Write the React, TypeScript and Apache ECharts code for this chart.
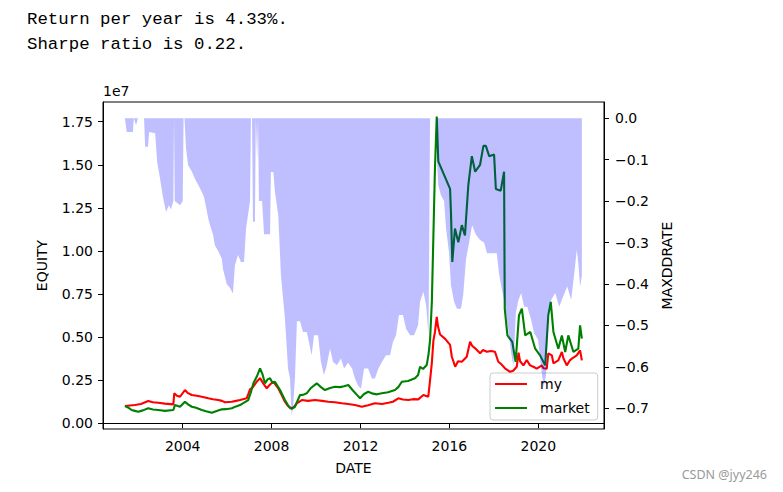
import React, { useEffect, useRef } from "react";
import * as echarts from "echarts";

// ---------- text ----------
const infoLines = ["Return per year is 4.33%.", "Sharpe ratio is 0.22."];

// ---------- axes ----------
const xTicks = [2004, 2008, 2012, 2016, 2020];
const equityTicks = [0, 2500000, 5000000, 7500000, 10000000, 12500000, 15000000, 17500000];
const ddTicks = [0, -0.1, -0.2, -0.3, -0.4, -0.5, -0.6, -0.7];

// ---------- series: "my" (equity in millions) ----------
const myDates = [
  2001.4, 2001.85, 2002.12, 2002.45, 2002.66, 2002.9, 2003.2, 2003.58, 2003.62, 2003.74,
  2003.88, 2004.1, 2004.24, 2004.41, 2004.7, 2004.91, 2005.15, 2005.36, 2005.6, 2005.77,
  2005.9, 2006.21, 2006.4, 2006.58, 2006.88, 2007.03, 2007.16, 2007.33, 2007.48, 2007.63,
  2007.78, 2007.93, 2008.08, 2008.3, 2008.47, 2008.6, 2008.74, 2008.91, 2009.01, 2009.13,
  2009.36, 2009.64, 2009.95, 2010.27, 2010.55, 2010.85, 2011.16, 2011.44, 2011.75, 2012.06,
  2012.34, 2012.65, 2012.97, 2013.25, 2013.46, 2013.7, 2013.91, 2014.15, 2014.36, 2014.6,
  2014.83, 2015.05, 2015.13, 2015.21, 2015.28, 2015.35, 2015.43, 2015.49, 2015.58, 2015.81,
  2016.03, 2016.11, 2016.26, 2016.39, 2016.56, 2016.78, 2016.93, 2017.02, 2017.16, 2017.38,
  2017.51, 2017.68, 2017.87, 2018.05, 2018.2, 2018.32, 2018.5, 2018.73, 2018.87, 2019.03,
  2019.11, 2019.18, 2019.33, 2019.48, 2019.63, 2019.78, 2019.93, 2020.16, 2020.23, 2020.38,
  2020.45, 2020.61, 2020.68, 2020.9, 2021.06, 2021.13, 2021.28, 2021.43, 2021.51, 2021.73,
  2021.88, 2021.96,
];
const myEquity = [
  1.0, 1.06, 1.12, 1.29, 1.22, 1.19, 1.14, 1.1, 1.74, 1.6,
  1.54, 1.93, 1.75, 1.64, 1.58, 1.52, 1.45, 1.4, 1.35, 1.3,
  1.22, 1.25, 1.3, 1.35, 1.45, 1.97, 2.1, 2.41, 2.62, 2.3,
  2.03, 2.25, 2.41, 2.03, 1.6, 1.25, 1.0, 0.87, 0.95, 1.16,
  1.35, 1.3, 1.35, 1.3, 1.25, 1.22, 1.16, 1.12, 1.06, 0.96,
  1.05, 1.16, 1.12, 1.19, 1.25, 1.45, 1.38, 1.35, 1.4, 1.39,
  1.64, 1.54, 2.5, 3.5, 4.8, 5.3, 6.18, 5.6, 5.15, 4.9,
  4.55, 3.86, 3.28, 3.6, 3.57, 3.86, 4.73, 4.5, 4.35, 4.06,
  4.25, 4.15, 4.2, 4.15, 3.57, 3.45, 3.19, 2.99, 3.05, 3.28,
  4.1, 3.6, 3.36, 3.67, 3.36, 3.28, 3.17, 3.36, 3.19, 3.17,
  4.06, 3.94, 3.48, 3.65, 4.14, 3.77, 3.36, 3.67, 3.75, 3.94,
  4.23, 3.65,
];

// ---------- series: "market" (equity in millions) ----------
const marketDates = [
  2001.4, 2001.54, 2001.7, 2001.85, 2002.0, 2002.21, 2002.45, 2002.66, 2002.9, 2003.2,
  2003.58, 2003.65, 2003.88, 2004.1, 2004.24, 2004.41, 2004.6, 2004.86, 2005.05, 2005.31,
  2005.5, 2005.76, 2005.95, 2006.21, 2006.4, 2006.58, 2006.76, 2006.95, 2007.07, 2007.18,
  2007.33, 2007.48, 2007.59, 2007.7, 2007.82, 2007.93, 2008.04, 2008.15, 2008.38, 2008.6,
  2008.74, 2008.83, 2008.92, 2009.05, 2009.28, 2009.41, 2009.58, 2009.77, 2010.03, 2010.22,
  2010.4, 2010.63, 2010.85, 2011.08, 2011.26, 2011.45, 2011.66, 2011.84, 2011.98, 2012.16,
  2012.35, 2012.56, 2012.74, 2012.96, 2013.24, 2013.55, 2013.7, 2013.86, 2014.14, 2014.45,
  2014.59, 2014.68, 2014.81, 2014.98, 2015.06, 2015.13, 2015.21, 2015.28, 2015.35, 2015.43,
  2015.5, 2016.03, 2016.07, 2016.13, 2016.25, 2016.4, 2016.56, 2016.7, 2016.85, 2017.01,
  2017.16, 2017.38, 2017.53, 2017.64, 2017.79, 2018.01, 2018.09, 2018.31, 2018.46, 2018.49,
  2018.61, 2018.83, 2018.98, 2019.13, 2019.26, 2019.41, 2019.64, 2019.86, 2020.08, 2020.31,
  2020.45, 2020.56, 2020.68, 2020.9, 2021.06, 2021.21, 2021.35, 2021.58, 2021.8, 2021.88,
  2021.96,
];
const marketEquity = [
  1.0, 0.92, 0.77, 0.72, 0.67, 0.75, 0.87, 0.8, 0.77, 0.72,
  0.77, 1.06, 0.96, 1.25, 1.1, 0.96, 0.9, 0.77, 0.7, 0.61,
  0.7, 0.81, 0.82, 0.87, 0.98, 1.06, 1.2, 1.35, 1.8, 2.32,
  2.7, 3.19, 2.85, 2.32, 2.55, 2.61, 2.35, 2.41, 1.93, 1.35,
  1.05, 0.87, 0.85, 0.96, 1.64, 1.65, 1.74, 2.05, 2.32, 2.1,
  1.93, 2.05, 2.12, 2.1, 2.15, 2.22, 1.9, 1.65, 1.45, 1.7,
  1.83, 1.72, 1.68, 1.74, 1.8, 1.93, 2.1, 2.41, 2.45, 2.61,
  2.8, 3.28, 3.15, 3.38, 4.0, 4.83, 7.04, 10.9, 14.8, 17.8,
  15.2, 13.6, 12.26, 9.36, 11.3, 10.5, 11.5, 10.9, 13.8, 15.5,
  14.6, 15.0, 16.1, 16.1, 15.5, 15.6, 13.6, 13.5, 14.6, 6.65,
  5.1, 4.72, 3.56, 6.26, 6.65, 5.1, 5.3, 4.33, 3.94, 3.36,
  6.26, 7.04, 5.3, 4.33, 5.1, 4.14, 5.1, 4.14, 4.33, 5.68,
  4.91,
];

// ---------- series: max drawdown rate ----------
const ddDates = [
  2001.4, 2001.48, 2001.76, 2001.8, 2001.9, 2001.99, 2002.26, 2002.31, 2002.44, 2002.49,
  2002.76, 2002.85, 2002.98, 2003.11, 2003.25, 2003.38, 2003.47, 2003.58, 2003.61, 2003.64,
  2003.88, 2004.0, 2004.04, 2004.08, 2004.15, 2004.24, 2004.42, 2004.55, 2004.69, 2004.86,
  2004.96, 2005.15, 2005.23, 2005.36, 2005.45, 2005.59, 2005.76, 2005.81, 2005.98, 2006.13,
  2006.26, 2006.35, 2006.49, 2006.62, 2006.76, 2006.85, 2007.03, 2007.07, 2007.12, 2007.16,
  2007.25, 2007.29, 2007.35, 2007.39, 2007.43, 2007.57, 2007.66, 2007.93, 2007.97, 2008.08,
  2008.15, 2008.3, 2008.42, 2008.6, 2008.74, 2008.83, 2008.9, 2008.96, 2009.05, 2009.14,
  2009.28, 2009.41, 2009.58, 2009.68, 2009.8, 2009.91, 2010.09, 2010.22, 2010.35, 2010.47,
  2010.63, 2010.76, 2010.94, 2011.12, 2011.26, 2011.44, 2011.62, 2011.75, 2011.89, 2012.02,
  2012.16, 2012.34, 2012.51, 2012.65, 2012.8, 2012.97, 2013.15, 2013.33, 2013.46, 2013.6,
  2013.73, 2013.91, 2014.05, 2014.23, 2014.41, 2014.59, 2014.68, 2014.83, 2014.95, 2015.06,
  2015.13, 2015.42, 2015.44, 2015.5, 2015.62, 2015.76, 2015.85, 2015.98, 2016.07, 2016.21,
  2016.34, 2016.52, 2016.62, 2016.75, 2016.89, 2017.02, 2017.2, 2017.38, 2017.56, 2017.69,
  2017.92, 2018.13, 2018.23, 2018.36, 2018.5, 2018.63, 2018.78, 2018.88, 2018.99, 2019.1,
  2019.23, 2019.36, 2019.5, 2019.68, 2019.81, 2019.99, 2020.12, 2020.24, 2020.35, 2020.45,
  2020.58, 2020.76, 2020.94, 2021.12, 2021.3, 2021.48, 2021.62, 2021.73, 2021.8, 2021.88,
  2021.96,
];
const ddValues = [
  0, -0.033, -0.033, 0, -0.017, 0, 0, -0.069, -0.069, -0.033,
  -0.036, -0.105, -0.146, -0.19, -0.226, -0.21, -0.22, -0.2, 0, -0.2,
  -0.21, -0.2, 0, 0, -0.073, -0.113, -0.13, -0.146, -0.16, -0.178,
  -0.19, -0.242, -0.258, -0.28, -0.307, -0.32, -0.339, -0.363, -0.4, -0.41,
  -0.423, -0.355, -0.33, -0.347, -0.347, -0.266, -0.2, 0, 0, -0.25,
  -0.25, 0, -0.1, 0, -0.2, -0.2, -0.28, -0.28, -0.13, -0.13,
  -0.178, -0.234, -0.38, -0.484, -0.605, -0.628, -0.717, -0.7, -0.628, -0.49,
  -0.49, -0.516, -0.516, -0.54, -0.572, -0.524, -0.524, -0.588, -0.62, -0.6,
  -0.556, -0.588, -0.596, -0.58, -0.604, -0.59, -0.604, -0.628, -0.645, -0.653,
  -0.604, -0.604, -0.628, -0.628, -0.605, -0.588, -0.572, -0.572, -0.54, -0.524,
  -0.475, -0.475, -0.508, -0.524, -0.524, -0.5, -0.443, -0.419, -0.45, -0.524,
  0, 0, -0.1, -0.162, -0.186, -0.2, -0.266, -0.323, -0.403, -0.443,
  -0.46, -0.46, -0.427, -0.339, -0.3, -0.258, -0.282, -0.294, -0.3, -0.326,
  -0.326, -0.326, -0.374, -0.414, -0.447, -0.503, -0.567, -0.6, -0.47, -0.44,
  -0.422, -0.455, -0.455, -0.487, -0.519, -0.535, -0.6, -0.648, -0.62, -0.479,
  -0.439, -0.422, -0.455, -0.43, -0.406, -0.439, -0.374, -0.318, -0.35, -0.406,
  -0.38,
];

const FONT = "'DejaVu Sans', sans-serif";
const fmtDd = (v: number) => (Math.abs(v) < 1e-9 ? "0.0" : "\u2212" + Math.abs(v).toFixed(1));

export default function App() {
  const ref = useRef<HTMLDivElement>(null);

  useEffect(() => {
    if (!ref.current) return;
    const chart = echarts.init(ref.current, undefined, { renderer: "svg" });

    const myData = myDates.map((d, i) => [d, myEquity[i] * 1e6]);
    const marketData = marketDates.map((d, i) => [d, marketEquity[i] * 1e6]);
    const ddData = ddDates.map((d, i) => [d, ddValues[i]]);

    const tickStyle = { show: true, inside: false, length: 5, lineStyle: { color: "#000", width: 1 } };
    const labelBase = { color: "#000", fontSize: 14, fontFamily: FONT };

    chart.setOption({
      animation: false,
      backgroundColor: "#fff",
      grid: {
        left: 103,
        right: 179,
        top: 102,
        bottom: 63,
        show: true,
        borderColor: "#000",
        borderWidth: 1,
        backgroundColor: "transparent",
      },
      legend: {
        data: ["my", "market"],
        orient: "vertical",
        left: 490,
        top: 373,
        icon: "rect",
        itemWidth: 32,
        itemHeight: 2,
        itemGap: 8,
        padding: [3, 8, 4, 5],
        backgroundColor: "rgba(255,255,255,0.8)",
        borderColor: "#cccccc",
        borderWidth: 1,
        borderRadius: 3,
        textStyle: { color: "#000", fontSize: 14, fontFamily: FONT, lineHeight: 16, padding: [0, 0, 0, 8] },
        z: 1,
      },
      xAxis: {
        type: "value",
        min: 2000.414,
        max: 2022.956,
        axisLine: { show: true, lineStyle: { color: "#000", width: 1 } },
        axisTick: { ...tickStyle, customValues: xTicks },
        axisLabel: { ...labelBase, margin: 10, customValues: xTicks, formatter: (v: number) => String(v) },
        splitLine: { show: false },
        name: "DATE",
        nameLocation: "middle",
        nameGap: 32,
        nameTextStyle: { color: "#000", fontSize: 14, fontFamily: FONT },
      },
      yAxis: [
        {
          type: "value",
          position: "left",
          min: -331000,
          max: 18643000,
          axisLine: { show: true, lineStyle: { color: "#000", width: 1 } },
          axisTick: { ...tickStyle, customValues: equityTicks },
          axisLabel: {
            ...labelBase,
            margin: 10,
            customValues: equityTicks,
            formatter: (v: number) => (v / 1e7).toFixed(2),
          },
          splitLine: { show: false },
          name: "EQUITY",
          nameLocation: "middle",
          nameRotate: 90,
          nameGap: 54,
          nameTextStyle: { color: "#000", fontSize: 14, fontFamily: FONT },
        },
        {
          type: "value",
          position: "right",
          min: -0.7502,
          max: 0.0393,
          axisLine: { show: true, lineStyle: { color: "#000", width: 1 } },
          axisTick: { ...tickStyle, customValues: ddTicks },
          axisLabel: { ...labelBase, margin: 11, customValues: ddTicks, formatter: fmtDd },
          splitLine: { show: false },
          name: "MAXDDRATE",
          nameLocation: "middle",
          nameRotate: 90,
          nameGap: 55,
          nameTextStyle: { color: "#000", fontSize: 14, fontFamily: FONT },
        },
      ],
      graphic: [
        {
          type: "text",
          left: 27,
          top: 11,
          style: {
            text: infoLines[0],
            font: "17.4px 'Liberation Mono', monospace",
            fill: "#000",
          },
        },
        {
          type: "text",
          left: 27,
          top: 36,
          style: {
            text: infoLines[1],
            font: "17.4px 'Liberation Mono', monospace",
            fill: "#000",
          },
        },
        {
          type: "text",
          left: 103,
          top: 84,
          style: { text: "1e7", font: "14px 'DejaVu Sans', sans-serif", fill: "#000" },
        },
        {
          type: "text",
          right: 16,
          top: 468,
          style: { text: "CSDN @jyy246", font: "12.5px 'Noto Sans', sans-serif", fill: "#9a9a9a" },
        },
      ],
      series: [
        {
          name: "my",
          type: "line",
          yAxisIndex: 0,
          data: myData,
          showSymbol: false,
          symbol: "none",
          lineStyle: { color: "#ff0000", width: 2.1 },
          itemStyle: { color: "#ff0000" },
          z: 2,
        },
        {
          name: "market",
          type: "line",
          yAxisIndex: 0,
          data: marketData,
          showSymbol: false,
          symbol: "none",
          lineStyle: { color: "#008000", width: 2.1 },
          itemStyle: { color: "#008000" },
          z: 3,
        },
        {
          name: "MAXDDRATE",
          type: "line",
          yAxisIndex: 1,
          data: ddData,
          showSymbol: false,
          symbol: "none",
          lineStyle: { width: 0, opacity: 0 },
          areaStyle: { color: "rgba(0,0,255,0.25)", opacity: 1 },
          z: 4,
        },
      ],
    });

    return () => chart.dispose();
  }, []);

  return (
    <div
      ref={ref}
      style={{ position: "fixed", left: 0, top: 0, width: 783, height: 492, background: "#fff" }}
    />
  );
}
